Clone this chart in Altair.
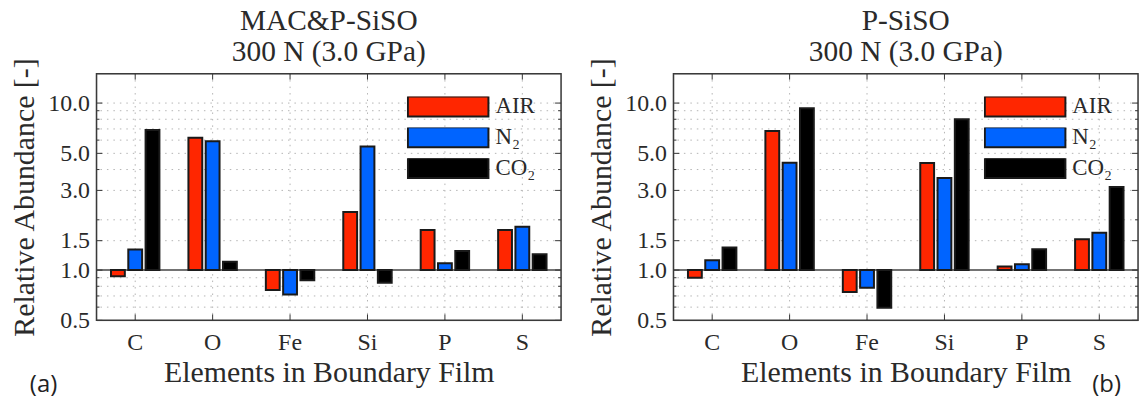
import altair as alt
import pandas as pd

# ---------------- data ----------------
elements = ["C", "O", "Fe", "Si", "P", "S"]
series = ["AIR", "N₂", "CO₂"]
colors = ["#ff2600", "#0064ff", "#000000"]

# panel (a) MAC&P-SiSO
air_a = [0.92, 6.2, 0.76, 2.23, 1.74, 1.74]
n2_a = [1.33, 5.9, 0.715, 5.5, 1.10, 1.82]
co2_a = [6.9, 1.12, 0.87, 0.84, 1.30, 1.245]

# panel (b) P-SiSO
air_b = [0.90, 6.8, 0.74, 4.37, 1.05, 1.53]
n2_b = [1.145, 4.39, 0.785, 3.56, 1.085, 1.675]
co2_b = [1.365, 9.3, 0.595, 8.0, 1.335, 3.14]

title_a = ["MAC&P-SiSO", "300 N (3.0 GPa)"]
title_b = ["P-SiSO", "300 N (3.0 GPa)"]
tag_a = "(a)"
tag_b = "(b)"
x_title = "Elements in Boundary Film"
y_title = "Relative Abundance [-]"

y_ticks = [0.5, 1.0, 1.5, 3.0, 5.0, 10.0]
y_grid = [0.6, 0.7, 0.8, 0.9, 1.5, 2, 3, 4, 5, 6, 7, 8, 9, 10]
y_minor = [0.6, 0.7, 0.8, 0.9, 2, 4, 6, 7, 8, 9]
y_domain = [0.5, 15]
baseline = [1.0]

# ---------------- style ----------------
W, H = 467, 248
SERIF = "Liberation Serif"
TXT = "#2a2a2a"
GRID = "#b4b4b4"
FRAME = "#3a3a3a"

X_AXIS = alt.Axis(
    title=x_title,
    labelAngle=0,
    labelFont=SERIF,
    labelFontSize=24,
    labelColor=TXT,
    labelPadding=10,
    ticks=False,
    domain=False,
    grid=False,
    titleFont=SERIF,
    titleFontSize=30,
    titleFontWeight="normal",
    titleColor=TXT,
    titlePadding=3,
)
Y_AXIS = alt.Axis(
    values=y_ticks,
    format=".1f",
    title=y_title,
    labelFont=SERIF,
    labelFontSize=24,
    labelColor=TXT,
    labelPadding=7,
    labelFlush=False,
    labelOverlap=False,
    ticks=False,
    domain=False,
    grid=False,
    titleFont=SERIF,
    titleFontSize=30,
    titleFontWeight="normal",
    titleColor=TXT,
    titlePadding=8,
)


def panel(vals, title, tag, tag_x):
    rows = []
    for s, arr in zip(series, vals):
        for e, v in zip(elements, arr):
            rows.append({"element": e, "series": s, "value": v, "base": baseline[0]})
    df = pd.DataFrame(rows)

    xscale = alt.Scale(domain=elements, paddingInner=0.33, paddingOuter=0.165)
    yscale = alt.Scale(type="log", domain=y_domain, nice=False)

    def X(field="element:N"):
        return alt.X(field, scale=xscale, sort=elements, axis=X_AXIS)

    def Y(field):
        return alt.Y(field, scale=yscale, axis=Y_AXIS)

    hgrid = alt.Chart(pd.DataFrame({"v": y_grid})).mark_rule(
        color=GRID, strokeDash=[1.5, 5], strokeWidth=1
    ).encode(y=Y("v:Q"))

    vgrid = alt.Chart(pd.DataFrame({"element": elements})).mark_rule(
        color=GRID, strokeDash=[1.5, 5], strokeWidth=1
    ).encode(x=X())

    base_rule = alt.Chart(pd.DataFrame({"v": baseline})).mark_rule(
        color="#444444", strokeWidth=1.5
    ).encode(y=Y("v:Q"))

    bars = alt.Chart(df).mark_bar(stroke="#1a1a1a", strokeWidth=2).encode(
        x=X(),
        xOffset=alt.XOffset(
            "series:N",
            sort=series,
            scale=alt.Scale(domain=series, paddingInner=0.2, paddingOuter=0.1),
        ),
        y=Y("value:Q"),
        y2="base:Q",
        color=alt.Color(
            "series:N",
            sort=series,
            scale=alt.Scale(domain=series, range=colors),
            legend=alt.Legend(
                title=None,
                orient="none",
                legendX=312,
                legendY=23,
                symbolType="M-1,-0.247H1V0.247H-1Z",
                symbolSize=6561,
                symbolStrokeWidth=2,
                symbolStrokeColor="#1a1a1a",
                symbolOpacity=1,
                clipHeight=20,
                rowPadding=8,
                labelFont=SERIF,
                labelFontSize=23,
                labelColor=TXT,
                labelOffset=6,
                padding=0,
                symbolOffset=0,
            ),
        ),
    )

    major = pd.DataFrame({"v": y_ticks})
    minor = pd.DataFrame({"v": y_minor})
    tick_l = alt.Chart(major).mark_rule(color="#333", strokeWidth=1).encode(
        y=Y("v:Q"), x=alt.value(0), x2=alt.value(6)
    )
    tick_r = alt.Chart(major).mark_rule(color="#333", strokeWidth=1).encode(
        y=Y("v:Q"), x=alt.value(W - 6), x2=alt.value(W)
    )
    mtick_l = alt.Chart(minor).mark_rule(color="#333", strokeWidth=1).encode(
        y=Y("v:Q"), x=alt.value(0), x2=alt.value(3)
    )
    mtick_r = alt.Chart(minor).mark_rule(color="#333", strokeWidth=1).encode(
        y=Y("v:Q"), x=alt.value(W - 3), x2=alt.value(W)
    )
    edf = pd.DataFrame({"element": elements})
    tick_b = alt.Chart(edf).mark_rule(color="#333", strokeWidth=1).encode(
        x=X(), y=alt.value(H), y2=alt.value(H - 6)
    )
    tick_t = alt.Chart(edf).mark_rule(color="#333", strokeWidth=1).encode(
        x=X(), y=alt.value(0), y2=alt.value(6)
    )

    frame = alt.Chart(pd.DataFrame({"f": [0]})).mark_rect(
        fillOpacity=0, stroke=FRAME, strokeWidth=1.5
    ).encode(x=alt.value(0), x2=alt.value(W), y=alt.value(0), y2=alt.value(H))

    tag_txt = alt.Chart(pd.DataFrame({"t": [tag]})).mark_text(
        font="Open Sans", fontSize=24, align="left", baseline="alphabetic", color="#222"
    ).encode(x=alt.value(tag_x), y=alt.value(H + 72), text="t:N")

    return alt.layer(
        hgrid, vgrid, base_rule, bars, tick_l, tick_r, mtick_l, mtick_r,
        tick_b, tick_t, frame, tag_txt
    ).properties(
        width=W,
        height=H,
        title=alt.TitleParams(
            text=title,
            font=SERIF,
            fontSize=29.5,
            fontWeight="normal",
            color=TXT,
            lineHeight=32,
            offset=-11,
            anchor="middle",
            frame="group",
        ),
    )


left = panel([air_a, n2_a, co2_a], title_a, tag_a, -67)
right = panel([air_b, n2_b, co2_b], title_b, tag_b, 421)

chart = alt.hconcat(left, right, spacing=23).resolve_scale(
    color="independent"
).resolve_legend(color="independent").properties(
    padding={"left": 9, "top": 4, "right": 2, "bottom": 0}
).configure_view(stroke=FRAME, strokeWidth=1.5).configure(background="white")

chart.save("out.html", embed_options={"renderer": "svg", "actions": False})
